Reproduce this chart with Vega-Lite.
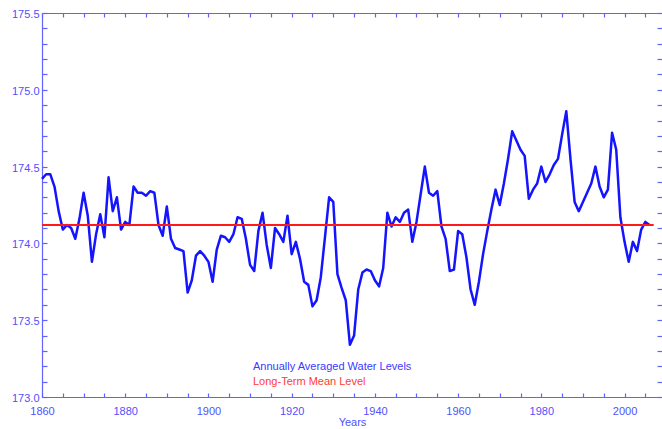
{
  "$schema": "https://vega.github.io/schema/vega-lite/v6.json",
  "width": 620,
  "height": 384,
  "autosize": {"type": "none"},
  "padding": {"left": 42, "top": 13, "right": 0, "bottom": 32},
  "background": "white",
  "config": {
    "view": {"stroke": null},
    "font": "Liberation Sans",
    "axis": {
      "grid": false,
      "domainColor": "#6262ff",
      "tickColor": "#6262ff",
      "labelColor": "#5050ff",
      "titleColor": "#5050ff",
      "labelFont": "Liberation Sans",
      "labelFontSize": 11,
      "titleFont": "Liberation Sans",
      "titleFontSize": 11,
      "titleFontWeight": "normal",
      "domainWidth": 1.2,
      "tickWidth": 1.2
    }
  },
  "layer": [
    {
      "data": {"values": [
        {"year":1860,"level":174.42,"series":"Annually Averaged Water Levels"},
        {"year":1861,"level":174.45,"series":"Annually Averaged Water Levels"},
        {"year":1862,"level":174.45,"series":"Annually Averaged Water Levels"},
        {"year":1863,"level":174.37,"series":"Annually Averaged Water Levels"},
        {"year":1864,"level":174.21,"series":"Annually Averaged Water Levels"},
        {"year":1865,"level":174.09,"series":"Annually Averaged Water Levels"},
        {"year":1866,"level":174.12,"series":"Annually Averaged Water Levels"},
        {"year":1867,"level":174.10,"series":"Annually Averaged Water Levels"},
        {"year":1868,"level":174.03,"series":"Annually Averaged Water Levels"},
        {"year":1869,"level":174.16,"series":"Annually Averaged Water Levels"},
        {"year":1870,"level":174.33,"series":"Annually Averaged Water Levels"},
        {"year":1871,"level":174.18,"series":"Annually Averaged Water Levels"},
        {"year":1872,"level":173.88,"series":"Annually Averaged Water Levels"},
        {"year":1873,"level":174.06,"series":"Annually Averaged Water Levels"},
        {"year":1874,"level":174.19,"series":"Annually Averaged Water Levels"},
        {"year":1875,"level":174.04,"series":"Annually Averaged Water Levels"},
        {"year":1876,"level":174.43,"series":"Annually Averaged Water Levels"},
        {"year":1877,"level":174.21,"series":"Annually Averaged Water Levels"},
        {"year":1878,"level":174.30,"series":"Annually Averaged Water Levels"},
        {"year":1879,"level":174.09,"series":"Annually Averaged Water Levels"},
        {"year":1880,"level":174.14,"series":"Annually Averaged Water Levels"},
        {"year":1881,"level":174.12,"series":"Annually Averaged Water Levels"},
        {"year":1882,"level":174.37,"series":"Annually Averaged Water Levels"},
        {"year":1883,"level":174.33,"series":"Annually Averaged Water Levels"},
        {"year":1884,"level":174.33,"series":"Annually Averaged Water Levels"},
        {"year":1885,"level":174.31,"series":"Annually Averaged Water Levels"},
        {"year":1886,"level":174.34,"series":"Annually Averaged Water Levels"},
        {"year":1887,"level":174.33,"series":"Annually Averaged Water Levels"},
        {"year":1888,"level":174.12,"series":"Annually Averaged Water Levels"},
        {"year":1889,"level":174.05,"series":"Annually Averaged Water Levels"},
        {"year":1890,"level":174.24,"series":"Annually Averaged Water Levels"},
        {"year":1891,"level":174.03,"series":"Annually Averaged Water Levels"},
        {"year":1892,"level":173.97,"series":"Annually Averaged Water Levels"},
        {"year":1893,"level":173.96,"series":"Annually Averaged Water Levels"},
        {"year":1894,"level":173.95,"series":"Annually Averaged Water Levels"},
        {"year":1895,"level":173.68,"series":"Annually Averaged Water Levels"},
        {"year":1896,"level":173.76,"series":"Annually Averaged Water Levels"},
        {"year":1897,"level":173.92,"series":"Annually Averaged Water Levels"},
        {"year":1898,"level":173.95,"series":"Annually Averaged Water Levels"},
        {"year":1899,"level":173.92,"series":"Annually Averaged Water Levels"},
        {"year":1900,"level":173.88,"series":"Annually Averaged Water Levels"},
        {"year":1901,"level":173.75,"series":"Annually Averaged Water Levels"},
        {"year":1902,"level":173.96,"series":"Annually Averaged Water Levels"},
        {"year":1903,"level":174.05,"series":"Annually Averaged Water Levels"},
        {"year":1904,"level":174.04,"series":"Annually Averaged Water Levels"},
        {"year":1905,"level":174.01,"series":"Annually Averaged Water Levels"},
        {"year":1906,"level":174.06,"series":"Annually Averaged Water Levels"},
        {"year":1907,"level":174.17,"series":"Annually Averaged Water Levels"},
        {"year":1908,"level":174.16,"series":"Annually Averaged Water Levels"},
        {"year":1909,"level":174.03,"series":"Annually Averaged Water Levels"},
        {"year":1910,"level":173.86,"series":"Annually Averaged Water Levels"},
        {"year":1911,"level":173.82,"series":"Annually Averaged Water Levels"},
        {"year":1912,"level":174.08,"series":"Annually Averaged Water Levels"},
        {"year":1913,"level":174.20,"series":"Annually Averaged Water Levels"},
        {"year":1914,"level":173.99,"series":"Annually Averaged Water Levels"},
        {"year":1915,"level":173.84,"series":"Annually Averaged Water Levels"},
        {"year":1916,"level":174.10,"series":"Annually Averaged Water Levels"},
        {"year":1917,"level":174.06,"series":"Annually Averaged Water Levels"},
        {"year":1918,"level":174.01,"series":"Annually Averaged Water Levels"},
        {"year":1919,"level":174.18,"series":"Annually Averaged Water Levels"},
        {"year":1920,"level":173.93,"series":"Annually Averaged Water Levels"},
        {"year":1921,"level":174.01,"series":"Annually Averaged Water Levels"},
        {"year":1922,"level":173.90,"series":"Annually Averaged Water Levels"},
        {"year":1923,"level":173.75,"series":"Annually Averaged Water Levels"},
        {"year":1924,"level":173.73,"series":"Annually Averaged Water Levels"},
        {"year":1925,"level":173.59,"series":"Annually Averaged Water Levels"},
        {"year":1926,"level":173.63,"series":"Annually Averaged Water Levels"},
        {"year":1927,"level":173.78,"series":"Annually Averaged Water Levels"},
        {"year":1928,"level":174.04,"series":"Annually Averaged Water Levels"},
        {"year":1929,"level":174.30,"series":"Annually Averaged Water Levels"},
        {"year":1930,"level":174.27,"series":"Annually Averaged Water Levels"},
        {"year":1931,"level":173.80,"series":"Annually Averaged Water Levels"},
        {"year":1932,"level":173.71,"series":"Annually Averaged Water Levels"},
        {"year":1933,"level":173.63,"series":"Annually Averaged Water Levels"},
        {"year":1934,"level":173.34,"series":"Annually Averaged Water Levels"},
        {"year":1935,"level":173.40,"series":"Annually Averaged Water Levels"},
        {"year":1936,"level":173.70,"series":"Annually Averaged Water Levels"},
        {"year":1937,"level":173.81,"series":"Annually Averaged Water Levels"},
        {"year":1938,"level":173.83,"series":"Annually Averaged Water Levels"},
        {"year":1939,"level":173.82,"series":"Annually Averaged Water Levels"},
        {"year":1940,"level":173.76,"series":"Annually Averaged Water Levels"},
        {"year":1941,"level":173.72,"series":"Annually Averaged Water Levels"},
        {"year":1942,"level":173.84,"series":"Annually Averaged Water Levels"},
        {"year":1943,"level":174.20,"series":"Annually Averaged Water Levels"},
        {"year":1944,"level":174.11,"series":"Annually Averaged Water Levels"},
        {"year":1945,"level":174.17,"series":"Annually Averaged Water Levels"},
        {"year":1946,"level":174.14,"series":"Annually Averaged Water Levels"},
        {"year":1947,"level":174.20,"series":"Annually Averaged Water Levels"},
        {"year":1948,"level":174.22,"series":"Annually Averaged Water Levels"},
        {"year":1949,"level":174.01,"series":"Annually Averaged Water Levels"},
        {"year":1950,"level":174.14,"series":"Annually Averaged Water Levels"},
        {"year":1951,"level":174.32,"series":"Annually Averaged Water Levels"},
        {"year":1952,"level":174.50,"series":"Annually Averaged Water Levels"},
        {"year":1953,"level":174.33,"series":"Annually Averaged Water Levels"},
        {"year":1954,"level":174.31,"series":"Annually Averaged Water Levels"},
        {"year":1955,"level":174.34,"series":"Annually Averaged Water Levels"},
        {"year":1956,"level":174.11,"series":"Annually Averaged Water Levels"},
        {"year":1957,"level":174.03,"series":"Annually Averaged Water Levels"},
        {"year":1958,"level":173.82,"series":"Annually Averaged Water Levels"},
        {"year":1959,"level":173.83,"series":"Annually Averaged Water Levels"},
        {"year":1960,"level":174.08,"series":"Annually Averaged Water Levels"},
        {"year":1961,"level":174.06,"series":"Annually Averaged Water Levels"},
        {"year":1962,"level":173.91,"series":"Annually Averaged Water Levels"},
        {"year":1963,"level":173.70,"series":"Annually Averaged Water Levels"},
        {"year":1964,"level":173.60,"series":"Annually Averaged Water Levels"},
        {"year":1965,"level":173.75,"series":"Annually Averaged Water Levels"},
        {"year":1966,"level":173.93,"series":"Annually Averaged Water Levels"},
        {"year":1967,"level":174.08,"series":"Annually Averaged Water Levels"},
        {"year":1968,"level":174.22,"series":"Annually Averaged Water Levels"},
        {"year":1969,"level":174.35,"series":"Annually Averaged Water Levels"},
        {"year":1970,"level":174.25,"series":"Annually Averaged Water Levels"},
        {"year":1971,"level":174.39,"series":"Annually Averaged Water Levels"},
        {"year":1972,"level":174.55,"series":"Annually Averaged Water Levels"},
        {"year":1973,"level":174.73,"series":"Annually Averaged Water Levels"},
        {"year":1974,"level":174.67,"series":"Annually Averaged Water Levels"},
        {"year":1975,"level":174.61,"series":"Annually Averaged Water Levels"},
        {"year":1976,"level":174.57,"series":"Annually Averaged Water Levels"},
        {"year":1977,"level":174.29,"series":"Annually Averaged Water Levels"},
        {"year":1978,"level":174.35,"series":"Annually Averaged Water Levels"},
        {"year":1979,"level":174.39,"series":"Annually Averaged Water Levels"},
        {"year":1980,"level":174.50,"series":"Annually Averaged Water Levels"},
        {"year":1981,"level":174.40,"series":"Annually Averaged Water Levels"},
        {"year":1982,"level":174.45,"series":"Annually Averaged Water Levels"},
        {"year":1983,"level":174.51,"series":"Annually Averaged Water Levels"},
        {"year":1984,"level":174.55,"series":"Annually Averaged Water Levels"},
        {"year":1985,"level":174.71,"series":"Annually Averaged Water Levels"},
        {"year":1986,"level":174.86,"series":"Annually Averaged Water Levels"},
        {"year":1987,"level":174.55,"series":"Annually Averaged Water Levels"},
        {"year":1988,"level":174.27,"series":"Annually Averaged Water Levels"},
        {"year":1989,"level":174.21,"series":"Annually Averaged Water Levels"},
        {"year":1990,"level":174.27,"series":"Annually Averaged Water Levels"},
        {"year":1991,"level":174.33,"series":"Annually Averaged Water Levels"},
        {"year":1992,"level":174.39,"series":"Annually Averaged Water Levels"},
        {"year":1993,"level":174.50,"series":"Annually Averaged Water Levels"},
        {"year":1994,"level":174.37,"series":"Annually Averaged Water Levels"},
        {"year":1995,"level":174.30,"series":"Annually Averaged Water Levels"},
        {"year":1996,"level":174.35,"series":"Annually Averaged Water Levels"},
        {"year":1997,"level":174.72,"series":"Annually Averaged Water Levels"},
        {"year":1998,"level":174.61,"series":"Annually Averaged Water Levels"},
        {"year":1999,"level":174.17,"series":"Annually Averaged Water Levels"},
        {"year":2000,"level":174.01,"series":"Annually Averaged Water Levels"},
        {"year":2001,"level":173.88,"series":"Annually Averaged Water Levels"},
        {"year":2002,"level":174.01,"series":"Annually Averaged Water Levels"},
        {"year":2003,"level":173.95,"series":"Annually Averaged Water Levels"},
        {"year":2004,"level":174.09,"series":"Annually Averaged Water Levels"},
        {"year":2005,"level":174.14,"series":"Annually Averaged Water Levels"},
        {"year":2006,"level":174.12,"series":"Annually Averaged Water Levels"}
      ]},
      "mark": {"type": "line", "strokeWidth": 2.5, "strokeJoin": "round"},
      "encoding": {
        "x": {
          "field": "year", "type": "quantitative",
          "scale": {"domain": [1860, 2009], "nice": false, "zero": false},
          "axis": {
            "orient": "bottom",
            "values": [1860,1865,1870,1875,1880,1885,1890,1895,1900,1905,1910,1915,1920,1925,1930,1935,1940,1945,1950,1955,1960,1965,1970,1975,1980,1985,1990,1995,2000,2005],
            "format": "d",
            "labelExpr": "datum.value % 20 === 0 ? datum.label : ''",
            "ticks": true,
            "tickSize": -4,
            "labelPadding": 12,
            "labelFlush": false,
            "labelOverlap": false,
            "title": "Years",
            "titlePadding": 0,
            "encode": {"ticks": {"y2": {"condition": {"test": "datum.value % 20 === 0", "value": -8}, "value": -4}}}
          }
        },
        "y": {
          "field": "level", "type": "quantitative",
          "scale": {"domain": [173, 175.5], "nice": false, "zero": false},
          "axis": {
            "orient": "left",
            "values": [173.0,173.1,173.2,173.3,173.4,173.5,173.6,173.7,173.8,173.9,174.0,174.1,174.2,174.3,174.4,174.5,174.6,174.7,174.8,174.9,175.0,175.1,175.2,175.3,175.4,175.5],
            "format": ".1f",
            "labelExpr": "abs(datum.value*2 - round(datum.value*2)) < 0.001 ? datum.label : ''",
            "ticks": true,
            "tickSize": -5,
            "labelPadding": 8,
            "labelOffset": 1.5,
            "labelFlush": false,
            "labelOverlap": false,
            "title": null,
            "encode": {"ticks": {"x2": {"condition": {"test": "abs(datum.value*2 - round(datum.value*2)) < 0.001", "value": 10}, "value": 5}}}
          }
        },
        "color": {
          "field": "series", "type": "nominal",
          "scale": {"domain": ["Annually Averaged Water Levels", "Long-Term Mean Level"], "range": ["#1414ff", "#ff1a1a"]},
          "legend": {
            "orient": "none",
            "legendX": 200,
            "legendY": 348,
            "title": null,
            "padding": 0,
            "symbolSize": 0,
            "symbolStrokeWidth": 0,
            "symbolOpacity": 0,
            "labelOffset": 0,
            "labelFont": "Liberation Sans",
            "labelFontSize": 11,
            "labelLimit": 400,
            "rowPadding": 3,
            "encode": {"labels": {"update": {"fill": {"signal": "datum.label === 'Long-Term Mean Level' ? '#ff3a3a' : '#3a3aff'"}}}}
          }
        }
      }
    },
    {
      "data": {"values": [
        {"year": 1860, "year2": 2007, "level": 174.12, "series": "Long-Term Mean Level"}
      ]},
      "mark": {"type": "rule", "strokeWidth": 2},
      "encoding": {
        "x": {
          "field": "year", "type": "quantitative",
          "axis": {
            "orient": "top",
            "values": [1860,1865,1870,1875,1880,1885,1890,1895,1900,1905,1910,1915,1920,1925,1930,1935,1940,1945,1950,1955,1960,1965,1970,1975,1980,1985,1990,1995,2000,2005],
            "labels": false,
            "ticks": true,
            "tickSize": -4,
            "title": null,
            "encode": {"ticks": {"y2": {"condition": {"test": "datum.value % 20 === 0", "value": 8}, "value": 4}}}
          }
        },
        "x2": {"field": "year2"},
        "y": {
          "field": "level", "type": "quantitative",
          "axis": {
            "orient": "right",
            "values": [173.0,173.1,173.2,173.3,173.4,173.5,173.6,173.7,173.8,173.9,174.0,174.1,174.2,174.3,174.4,174.5,174.6,174.7,174.8,174.9,175.0,175.1,175.2,175.3,175.4,175.5],
            "labels": false,
            "domain": false,
            "ticks": true,
            "tickSize": -5,
            "title": null,
            "encode": {"ticks": {"x2": {"condition": {"test": "abs(datum.value*2 - round(datum.value*2)) < 0.001", "value": -10}, "value": -5}}}
          }
        },
        "color": {"field": "series", "type": "nominal"}
      }
    }
  ],
  "resolve": {"axis": {"x": "independent", "y": "independent"}}
}
